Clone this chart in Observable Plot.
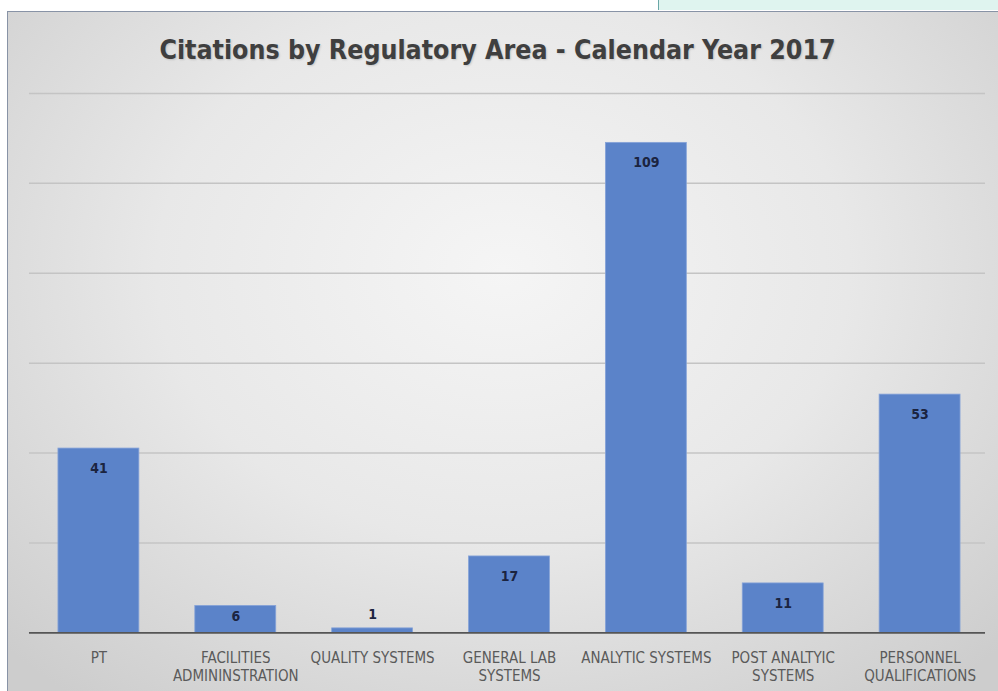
<!DOCTYPE html>
<html>
<head>
<meta charset="utf-8">
<script src="https://cdn.jsdelivr.net/npm/d3@7"></script>
<script src="https://cdn.jsdelivr.net/npm/@observablehq/plot@0.6"></script>
<style>
  html, body { margin: 0; padding: 0; width: 998px; height: 691px; overflow: hidden; background: #ffffff; }
  #note { position: absolute; left: 658px; top: 0; width: 340px; height: 10px; background: #dff4ef; border-left: 1px solid #6aa7a7; }
  #frame { position: absolute; left: 7px; top: 11px; width: 991px; height: 680px;
    border-left: 1.5px solid #8893a6; border-top: 1.5px solid #8893a6; box-sizing: border-box;
    background: radial-gradient(ellipse 70% 80% at 50% 38%, #f5f5f5 0%, #e8e8e8 50%, #cdcdcd 100%); }
  #title { position: absolute; left: -6px; width: 991px; top: 22px; text-align: center;
    font-family: "DejaVu Sans Condensed", "Open Sans", sans-serif;
    font-weight: bold; font-size: 26.5px; color: #3f3f3f; text-shadow: 1px 1px 2px rgba(0,0,0,0.15); }
  #chart { position: absolute; left: 0; top: 0; }
</style>
</head>
<body>
<div id="note"></div>
<div id="frame">
  <div id="title">Citations by Regulatory Area - Calendar Year 2017</div>
  <div id="chart"></div>
</div>
<script>
const categories = ["PT", "FACILITIES\nADMININSTRATION", "QUALITY SYSTEMS", "GENERAL LAB\nSYSTEMS", "ANALYTIC SYSTEMS", "POST ANALTYIC\nSYSTEMS", "PERSONNEL\nQUALIFICATIONS"];
const citations = [41, 6, 1, 17, 109, 11, 53];
const gridValues = [20, 40, 60, 80, 100, 120];

const data = categories.map((c, i) => ({category: c, value: citations[i]}));

const font = '"DejaVu Sans Condensed", "Open Sans", sans-serif';

const chart = Plot.plot({
  width: 991,
  height: 680,
  marginLeft: 21,
  marginRight: 9,
  marginTop: 81,
  marginBottom: 59,
  style: { background: "transparent", fontFamily: font, overflow: "visible" },
  x: { domain: categories, paddingInner: 0.41, paddingOuter: 0.2, label: null },
  y: { domain: [0, 120], axis: null },
  marks: [
    Plot.ruleY(gridValues, { stroke: "#c4c4c4", strokeWidth: 1.5, insetRight: 4 }),
    Plot.barY(data, { x: "category", y: "value", fill: "#5b83c9", stroke: "#86a3d8", strokeWidth: 0.8 }),
    Plot.ruleY([0], { stroke: "#555555", strokeWidth: 1.8, insetRight: 4 }),
    Plot.text(data.filter(d => d.value >= 10), { x: "category", y: "value", text: d => String(d.value), dy: 20, fontWeight: "bold", fontSize: 14, fill: "#1b2440" }),
    Plot.text(data.filter(d => d.value >= 3 && d.value < 10), { x: "category", y: d => d.value / 2, text: d => String(d.value), dy: -3, fontWeight: "bold", fontSize: 14, fill: "#1b2440" }),
    Plot.text(data.filter(d => d.value < 3), { x: "category", y: "value", text: d => String(d.value), dy: -14, fontWeight: "bold", fontSize: 14, fill: "#1b2440" }),
    Plot.axisX({ tickSize: 0, tickPadding: 17, fontSize: 15, lineHeight: 1.2, fill: "#5a5a5a", label: null })
  ]
});
document.getElementById("chart").appendChild(chart);
</script>
</body>
</html>
